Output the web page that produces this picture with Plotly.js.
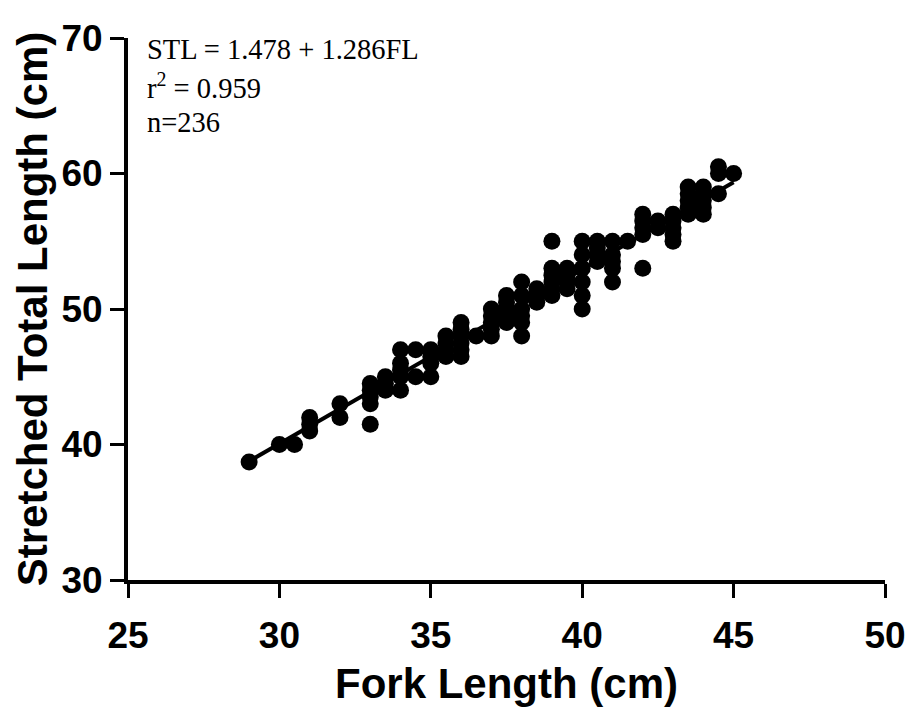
<!DOCTYPE html>
<html>
<head>
<meta charset="utf-8">
<script src="https://cdn.plot.ly/plotly-3.0.1.min.js"></script>
<style>html,body{margin:0;padding:0;background:#fff;}#chart{width:910px;height:718px;}</style>
</head>
<body>
<div id="chart"></div>
<script>
// Fork length (cm) values
const forkLength = [
  29, 30, 30.5,
  31, 31, 31,
  32, 32,
  33, 33, 33, 33, 33,
  33.5, 33.5, 33.5,
  34, 34, 34, 34, 34,
  34.5, 34.5,
  35, 35, 35, 35,
  35.5, 35.5, 35.5, 35.5,
  36, 36, 36, 36, 36, 36,
  36.5,
  37, 37, 37, 37, 37,
  37.5, 37.5, 37.5, 37.5, 37.5,
  38, 38, 38, 38, 38, 38,
  38.5, 38.5, 38.5,
  39, 39, 39, 39, 39, 39,
  39.5, 39.5, 39.5, 39.5,
  40, 40, 40, 40, 40, 40,
  40.5, 40.5, 40.5, 40.5,
  41, 41, 41, 41, 41,
  41.5,
  42, 42, 42, 42, 42,
  42.5, 42.5,
  43, 43, 43, 43, 43,
  43.5, 43.5, 43.5, 43.5, 43.5,
  44, 44, 44, 44, 44,
  44.5, 44.5, 44.5,
  45
];
// Stretched total length (cm) values
const stretchedTotalLength = [
  38.7, 40, 40,
  41, 41.5, 42,
  42, 43,
  41.5, 43, 43.5, 44, 44.5,
  44, 44.5, 45,
  44, 45, 45.5, 46, 47,
  45, 47,
  45, 46, 46.5, 47,
  46.5, 47, 47.5, 48,
  46.5, 47, 47.5, 48, 48.5, 49,
  48,
  48, 48.5, 49, 49.5, 50,
  49, 49.5, 50, 50.5, 51,
  48, 49, 49.5, 50, 51, 52,
  50.5, 51, 51.5,
  51, 51.5, 52, 52.5, 53, 55,
  51.5, 52, 52.5, 53,
  50, 51, 52, 53, 54, 55,
  53.5, 54, 54.5, 55,
  52, 53, 53.5, 54, 55,
  55,
  53, 55.5, 56, 56.5, 57,
  56, 56.5,
  55, 55.5, 56, 56.5, 57,
  57, 57.5, 58, 58.5, 59,
  57, 57.5, 58, 58.5, 59,
  58.5, 60, 60.5,
  60
];
// Regression: STL = 1.478 + 1.286 FL, drawn over the data range
const intercept = 1.478;
const slope = 1.286;
const fitX = [29, 45];
const fitY = fitX.map(v => intercept + slope * v);

const xTicks = [25, 30, 35, 40, 45, 50];
const yTicks = [30, 40, 50, 60, 70];
const statLines = ["STL = 1.478 + 1.286FL", "r<sup>2</sup> = 0.959", "n=236"];

const traces = [
  {
    x: forkLength, y: stretchedTotalLength, type: 'scatter', mode: 'markers',
    marker: {color: '#000', size: 17, line: {width: 0}},
    hoverinfo: 'x+y', showlegend: false
  },
  {
    x: fitX, y: fitY, type: 'scatter', mode: 'lines',
    line: {color: '#000', width: 4}, showlegend: false, hoverinfo: 'skip'
  }
];

const statY = [0.978, 0.912, 0.845];
const annotations = statLines.map((t, i) => ({
  text: t, xref: 'paper', yref: 'paper', x: 0.022, y: statY[i],
  xanchor: 'left', yanchor: 'middle', showarrow: false,
  font: {family: '"Liberation Serif", "Times New Roman", serif', size: 28.5, color: '#000'}
}));

const axisFont = {family: '"Liberation Sans", Arial, sans-serif', size: 37, color: '#000', weight: 'bold'};
const titleFont = {family: '"Liberation Sans", Arial, sans-serif', size: 42, color: '#000', weight: 'bold'};

const layout = {
  width: 910, height: 718,
  margin: {l: 128, r: 25, t: 38, b: 138},
  paper_bgcolor: '#fff', plot_bgcolor: '#fff',
  showlegend: false,
  xaxis: {
    range: [25, 50], tickvals: xTicks, ticktext: xTicks.map(String),
    showline: true, linecolor: '#000', linewidth: 4, mirror: false,
    showgrid: false, zeroline: false,
    ticks: 'outside', ticklen: 14, tickwidth: 3, tickcolor: '#000',
    tickfont: axisFont, ticklabelstandoff: 6,
    title: {text: 'Fork Length (cm)', font: titleFont, standoff: 14}
  },
  yaxis: {
    range: [30, 70], tickvals: yTicks, ticktext: yTicks.map(String),
    showline: true, linecolor: '#000', linewidth: 4, mirror: false,
    showgrid: false, zeroline: false,
    ticks: 'outside', ticklen: 14, tickwidth: 3, tickcolor: '#000',
    tickfont: axisFont,
    title: {text: 'Stretched Total Length (cm)', font: titleFont, standoff: 2}
  },
  annotations: annotations
};

Plotly.newPlot('chart', traces, layout, {displayModeBar: false, staticPlot: true});
</script>
</body>
</html>
